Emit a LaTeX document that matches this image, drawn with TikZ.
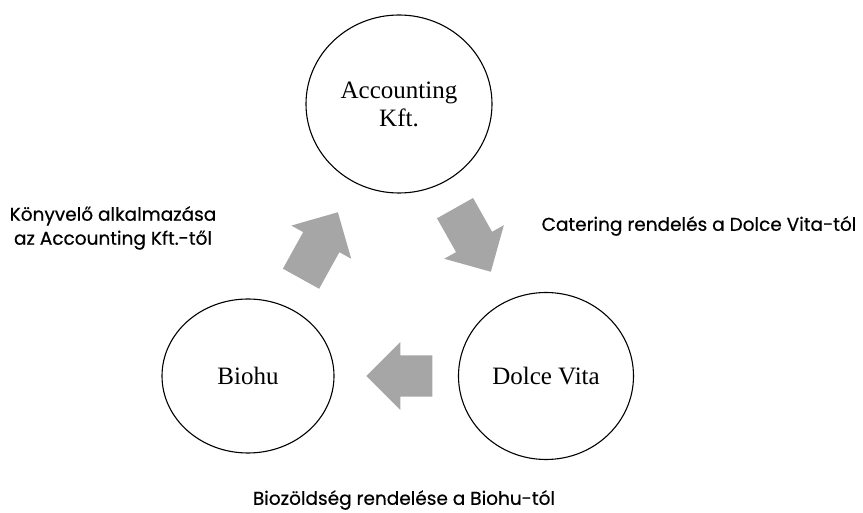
\documentclass[tikz,border=0pt]{standalone}
\usepackage{fontspec}
\setmainfont{Liberation Serif}
\newfontfamily\notefont[FakeBold=0.5]{Poppins}
\usetikzlibrary{shapes}
\usetikzlibrary{shapes.arrows}
\usetikzlibrary{positioning}

\begin{document}
\begin{tikzpicture}[x=1pt,y=1pt,
	firm/.style={draw,ellipse,line width=1.1pt,inner sep=0pt,align=center,font=\fontsize{25}{28}\selectfont},
	flow/.style={single arrow,fill=black!35,inner sep=0pt,text height=20.5pt,text depth=20.5pt,single arrow head extend=13.5pt,anchor=tip},
	note/.style={align=center,font=\notefont\fontsize{18.5}{24}\selectfont}]

				    \useasboundingbox (0,0) rectangle (863,512);

				    % Place nodes
				    \node [firm,minimum width=186pt,minimum height=178pt] (acc) at (399,408) {Accounting\\Kft.};
				    \node [firm,minimum width=172pt,minimum height=154pt] (bio) at (248,136) {Biohu};
				    \node [firm,minimum width=175pt,minimum height=167pt] (dolce) at (546,136) {Dolce Vita};

				    % Arrows between them (placed by their tips)
				    \node [flow,minimum height=76pt,rotate=61] (up) at (338,300) {};
				    \node [flow,minimum height=73pt,rotate=-60.6] (down) at (491,240) {};
				    \node [flow,minimum height=66pt,rotate=180] (left) at (366,136) {};

				    % Labels
				    \node [note] (hire) at (113,284) {Könyvelő alkalmazása\\az Accounting Kft.-től};
				    \node [note] (cater) at (699,286) {Catering rendelés a Dolce Vita-tól};
				    \node [note] (veg) at (404,12) {Biozöldség rendelése a Biohu-tól};
				\end{tikzpicture}
\end{document}
